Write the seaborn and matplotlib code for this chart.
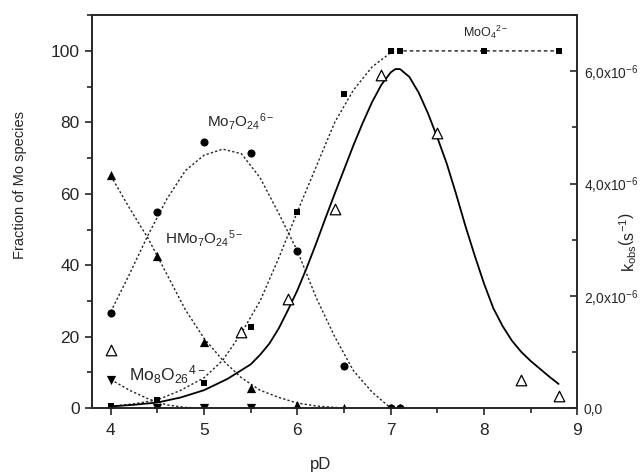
import matplotlib
matplotlib.use("Agg")
import matplotlib.pyplot as plt
from matplotlib.ticker import MultipleLocator, FuncFormatter
import pandas as pd
import seaborn as sns

# ---------------- data ----------------
pD_species = [4.0, 4.5, 5.0, 5.5, 6.0, 6.5, 7.0, 7.1]
mo7o24 = [26.5, 55.0, 74.5, 71.5, 44.0, 11.7, 0.0, 0.0]
hmo7o24 = [65.3, 42.7, 18.4, 5.6, 1.0, 0.0, 0.0, 0.0]
pD_mo8 = [4.0, 4.5, 5.0, 5.5]
mo8o26 = [7.8, 0.0, 0.0, 0.0]
pD_moo4 = [4.0, 4.5, 5.0, 5.5, 6.0, 6.5, 7.0, 7.1, 8.0, 8.8]
moo4 = [0.5, 2.2, 7.0, 22.6, 55.0, 88.0, 100.0, 100.0, 100.0, 100.0]
pD_kobs = [4.0, 5.4, 5.9, 6.4, 6.9, 7.5, 8.4, 8.8]
kobs = [1.03e-6, 1.35e-6, 1.94e-6, 3.54e-6, 5.93e-6, 4.90e-6, 0.50e-6, 0.21e-6]

# fitted curves
fit_mo7_pD = [4.0, 4.2, 4.4, 4.6, 4.8, 5.0, 5.2, 5.4, 5.6, 5.8, 6.0, 6.2, 6.4, 6.6, 6.8, 7.0]
fit_mo7 = [27.0, 37.5, 48.5, 58.5, 66.5, 70.8, 72.5, 71.2, 64.5, 54.5, 44.0, 31.0, 20.0, 10.5, 4.5, 0.0]
fit_hmo7_pD = [4.0, 4.2, 4.4, 4.6, 4.8, 5.0, 5.2, 5.4, 5.6, 5.8, 6.0, 6.2, 6.4, 6.5]
fit_hmo7 = [65.0, 56.0, 47.5, 37.5, 27.5, 19.5, 13.4, 8.5, 5.0, 3.0, 1.4, 0.6, 0.2, 0.0]
fit_mo8_pD = [4.0, 4.2, 4.4, 4.6, 4.8, 5.0]
fit_mo8 = [8.0, 5.0, 2.6, 0.9, 0.2, 0.0]
fit_moo4_pD = [4.0, 4.25, 4.5, 4.75, 5.0, 5.2, 5.4, 5.6, 5.8, 6.0, 6.2, 6.4, 6.6, 6.8, 7.0, 7.1, 8.0, 8.8]
fit_moo4 = [0.5, 1.2, 2.3, 5.0, 8.5, 13.4, 21.0, 30.0, 42.0, 55.0, 67.5, 80.0, 89.0, 95.5, 99.5, 100.0, 100.0, 100.0]
fit_kobs_pD = [4.0, 4.25, 4.5, 4.75, 5.0, 5.25, 5.5, 5.6, 5.7, 5.8, 5.9, 6.0, 6.1, 6.2, 6.3,
               6.4, 6.5, 6.6, 6.7, 6.8, 6.9, 7.0, 7.05, 7.1, 7.2, 7.3, 7.4, 7.5, 7.6, 7.7,
               7.8, 7.9, 8.0, 8.1, 8.2, 8.3, 8.4, 8.5, 8.6, 8.7, 8.8]
fit_kobs = [0.03e-6, 0.06e-6, 0.10e-6, 0.19e-6, 0.32e-6, 0.52e-6, 0.78e-6, 0.95e-6, 1.15e-6,
            1.42e-6, 1.75e-6, 2.10e-6, 2.50e-6, 2.93e-6, 3.38e-6, 3.82e-6, 4.25e-6, 4.68e-6,
            5.08e-6, 5.45e-6, 5.76e-6, 5.98e-6, 6.04e-6, 6.04e-6, 5.90e-6, 5.62e-6, 5.25e-6,
            4.82e-6, 4.36e-6, 3.82e-6, 3.25e-6, 2.72e-6, 2.22e-6, 1.78e-6, 1.46e-6, 1.20e-6,
            1.00e-6, 0.84e-6, 0.70e-6, 0.56e-6, 0.43e-6]

# ---------------- style ----------------
sns.set_style("ticks")
plt.rcParams["font.family"] = ["Liberation Sans", "DejaVu Sans"]
plt.rcParams["mathtext.fontset"] = "custom"
plt.rcParams["mathtext.rm"] = "Liberation Sans"
plt.rcParams["mathtext.it"] = "Liberation Sans:italic"
plt.rcParams["mathtext.bf"] = "Liberation Sans:bold"
plt.rcParams["axes.linewidth"] = 1.2

fig, ax = plt.subplots(figsize=(6.4, 4.74), dpi=100)
fig.subplots_adjust(left=0.144, right=0.902, top=0.968, bottom=0.139)
ax2 = ax.twinx()

dot = (0, (1.6, 1.6))
lc = "#222222"

def fit_line(axis, x, y, ls=dot, lw=1.0, color=lc):
    df = pd.DataFrame({"x": x, "y": y})
    sns.lineplot(data=df, x="x", y="y", ax=axis, color=color, lw=lw,
                 linestyle=ls, sort=False, estimator=None, legend=False)

fit_line(ax, fit_mo7_pD, fit_mo7)
fit_line(ax, fit_hmo7_pD, fit_hmo7)
fit_line(ax, fit_mo8_pD, fit_mo8)
fit_line(ax, fit_moo4_pD[:15], fit_moo4[:15])
fit_line(ax, fit_moo4_pD[14:], fit_moo4[14:], ls=(0, (2.6, 2.0)))
fit_line(ax2, fit_kobs_pD, fit_kobs, ls="-", lw=1.3, color="black")

def pts(axis, x, y, marker, s, fc="black", ec="black", lw=0.0):
    df = pd.DataFrame({"x": x, "y": y})
    sns.scatterplot(data=df, x="x", y="y", ax=axis, marker=marker, s=s,
                    color=fc, edgecolor=ec, linewidth=lw, legend=False, zorder=5)

pts(ax, pD_species, mo7o24, "o", 34)
pts(ax, pD_species, hmo7o24, "^", 44)
pts(ax, pD_mo8, mo8o26, "v", 44)
pts(ax, pD_moo4, moo4, "s", 22)
pts(ax2, pD_kobs, kobs, "^", 58, fc="white", ec="black", lw=0.9)

# ---------------- axes ----------------
ax.set_xlim(3.8, 9.0)
ax.set_ylim(0, 110)
ax2.set_ylim(0, 7e-6)

ax.xaxis.set_major_locator(MultipleLocator(1))
ax.xaxis.set_minor_locator(MultipleLocator(0.5))
ax.yaxis.set_major_locator(MultipleLocator(20))
ax.yaxis.set_minor_locator(MultipleLocator(10))
ax2.yaxis.set_major_locator(MultipleLocator(2e-6))
ax2.yaxis.set_minor_locator(MultipleLocator(1e-6))

def rfmt(v, pos):
    if abs(v) < 1e-12:
        return "0,0"
    return ("%.1f" % (v / 1e-6)).replace(".", ",") + "x10$^{-6}$"
ax2.yaxis.set_major_formatter(FuncFormatter(rfmt))

ax.tick_params(axis="both", which="major", direction="out", length=5, width=1.2,
               labelsize=12.5, pad=4)
ax.tick_params(axis="both", which="minor", direction="out", length=3.5, width=1.2)
ax.tick_params(axis="x", which="major", pad=6)
ax2.tick_params(axis="y", which="major", direction="in", length=5, width=1.2,
                labelsize=10, pad=4.5)
ax2.tick_params(axis="y", which="minor", direction="in", length=3.5, width=1.2)

ax.set_xlabel("pD", fontsize=12)
ax.set_ylabel("Fraction of Mo species", fontsize=10.5)
ax.yaxis.set_label_coords(-0.134, 0.567)
ax.xaxis.set_label_coords(0.47, -0.125)
ax2.set_ylabel("")
fig.text(0.982, 0.49, r"$\mathregular{k_{obs}}\left(\mathregular{s^{-1}}\right)$",
         rotation=90, fontsize=11.5, ha="center", va="center")

for sp in ax.spines.values():
    sp.set_linewidth(1.2)
for sp in ax2.spines.values():
    sp.set_linewidth(1.2)

# species labels
ax.text(5.03, 78.8, r"Mo$_7$O$_{24}$$^{6-}$", fontsize=11, ha="left", va="baseline")
ax.text(4.58, 46.0, r"HMo$_7$O$_{24}$$^{5-}$", fontsize=11, ha="left", va="baseline")
ax.text(4.2, 7.8, r"Mo$_8$O$_{26}$$^{4-}$", fontsize=12.5, ha="left", va="baseline")
ax.text(7.77, 104.0, r"MoO$_4$$^{2-}$", fontsize=9, ha="left", va="baseline")

fig.savefig("out.png", dpi=100)
